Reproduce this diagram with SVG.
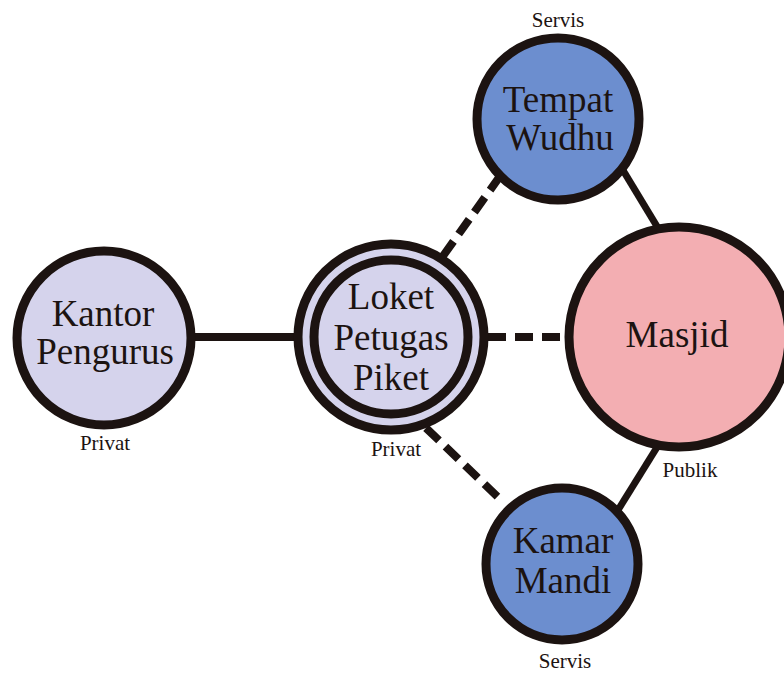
<svg xmlns="http://www.w3.org/2000/svg" width="784" height="673" viewBox="0 0 784 673">
<style>
.edge{stroke:#1c1311;stroke-width:8;fill:none}
.thin{stroke-width:7}
.dash{stroke-dasharray:18 9}
.node{stroke:#1c1311;stroke-width:9}
.lav{fill:#d5d3ec}
.blue{fill:#6c8ecf}
.pink{fill:#f3aeb2}
.big{font-family:"Liberation Serif","Times New Roman",serif;font-size:37px;fill:#1c1311;text-anchor:middle}
.small{font-family:"Liberation Serif","Times New Roman",serif;font-size:21px;fill:#1c1311;text-anchor:middle}
</style>
<rect width="784" height="673" fill="#ffffff"/>
<g id="connectors">
<line class="edge" x1="190" y1="337" x2="296" y2="337"/>
<line class="edge dash" x1="488" y1="337" x2="568" y2="337"/>
<line class="edge dash" x1="443" y1="256" x2="503" y2="172"/>
<line class="edge dash" x1="426" y1="428" x2="500" y2="499"/>
<line class="edge thin" x1="615" y1="157" x2="664" y2="238"/>
<line class="edge thin" x1="664" y1="436" x2="618" y2="510"/>
</g>
<g id="kantor">
<circle class="node lav" cx="104" cy="338" r="87"/>
<text class="big" x="103" y="326">Kantor</text>
<text class="big" x="105" y="364">Pengurus</text>
<text class="small" x="105" y="450">Privat</text>
</g>
<g id="loket">
<circle class="node lav" cx="391" cy="337" r="93"/>
<circle class="node lav" cx="391" cy="337" r="77"/>
<text class="big" x="391" y="309">Loket</text>
<text class="big" x="391" y="350">Petugas</text>
<text class="big" x="391" y="390">Piket</text>
<text class="small" x="396" y="456">Privat</text>
</g>
<g id="tempat">
<circle class="node blue" cx="558" cy="119" r="81"/>
<text class="big" x="558" y="112">Tempat</text>
<text class="big" x="560" y="150">Wudhu</text>
<text class="small" x="558" y="27">Servis</text>
</g>
<g id="masjid">
<circle class="node pink" cx="679" cy="337" r="110"/>
<text class="big" x="677" y="347">Masjid</text>
<text class="small" x="690" y="477">Publik</text>
</g>
<g id="kamar">
<circle class="node blue" cx="562" cy="564" r="76"/>
<text class="big" x="563" y="553">Kamar</text>
<text class="big" x="563" y="593">Mandi</text>
<text class="small" x="565" y="668">Servis</text>
</g>
</svg>
